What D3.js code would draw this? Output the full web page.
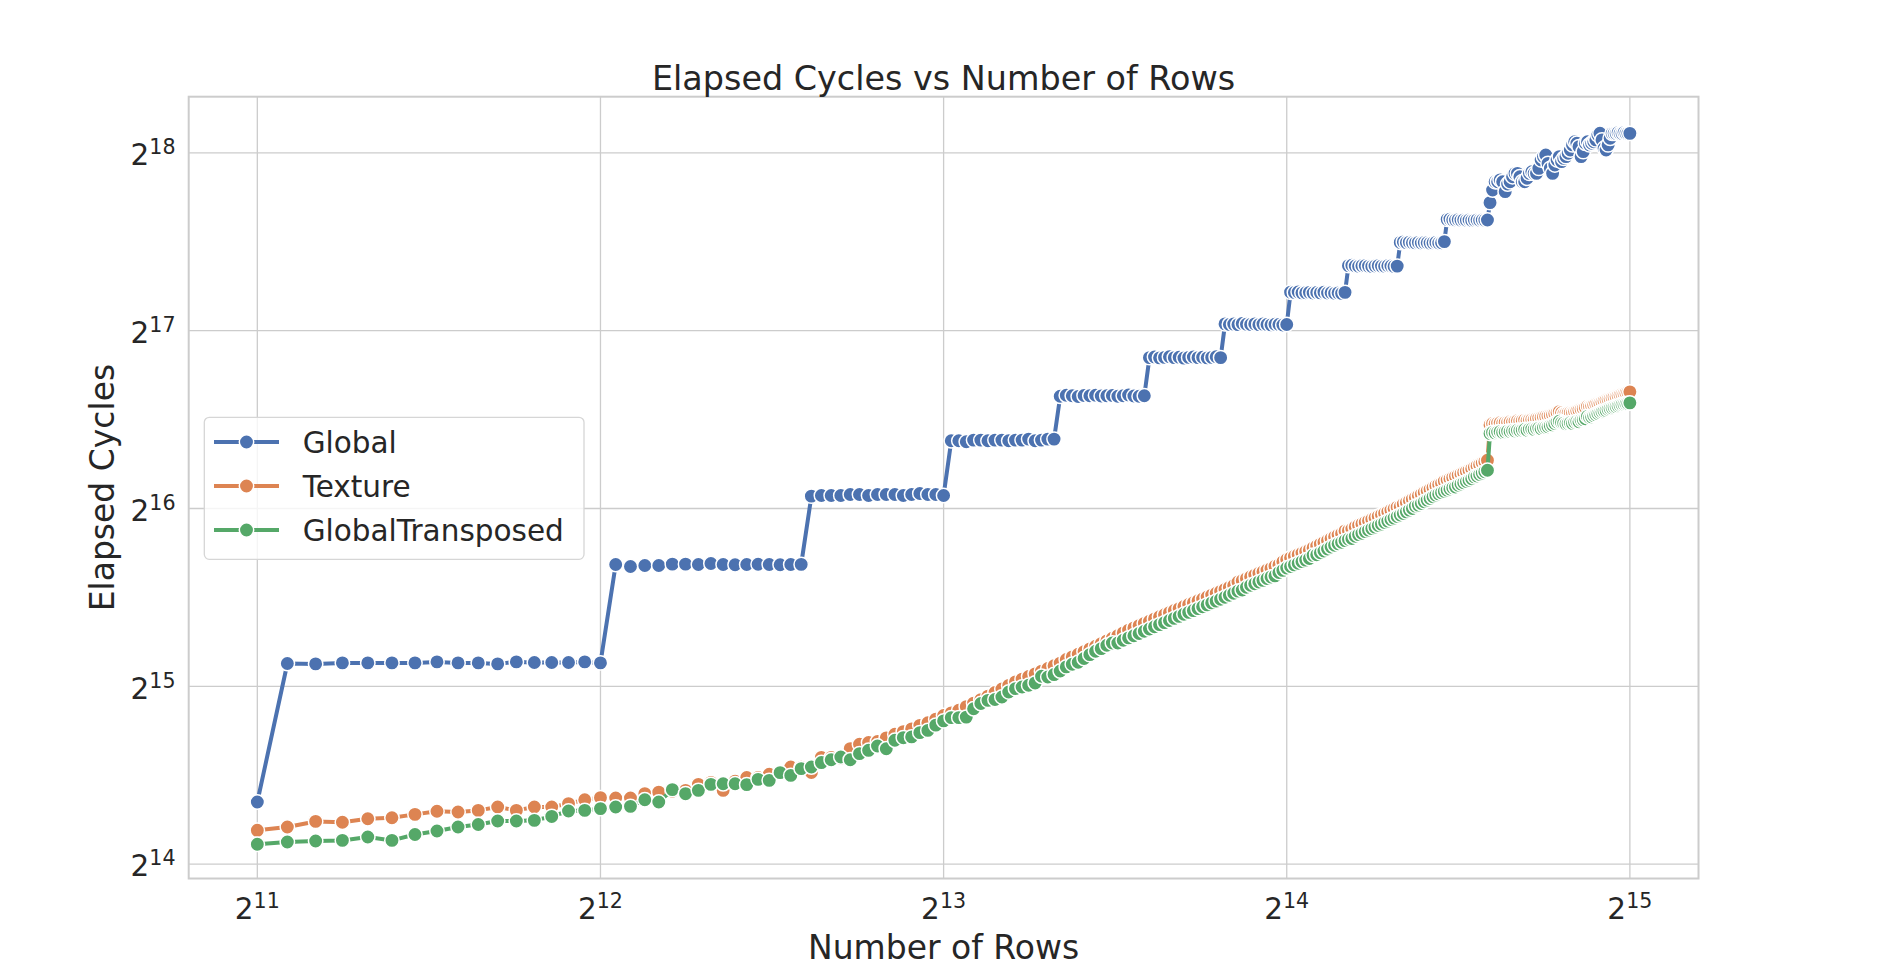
<!DOCTYPE html>
<html>
<head>
<meta charset="utf-8">
<script src="https://cdn.jsdelivr.net/npm/d3@7"></script>
<style>
body { margin: 0; background: #fff; }
.chart text { font-family: "DejaVu Sans", sans-serif; fill: #262626; }
</style>
</head>
<body>
<div class="chart"></div>
<script>
var rows = [
    2048, 2176, 2304, 2432, 2560, 2688, 2816, 2944, 3072, 3200, 3328, 3456, 3584, 3712, 3840, 3968,
    4096, 4224, 4352, 4480, 4608, 4736, 4864, 4992, 5120, 5248, 5376, 5504, 5632, 5760, 5888, 6016,
    6144, 6272, 6400, 6528, 6656, 6784, 6912, 7040, 7168, 7296, 7424, 7552, 7680, 7808, 7936, 8064,
    8192, 8320, 8448, 8576, 8704, 8832, 8960, 9088, 9216, 9344, 9472, 9600, 9728, 9856, 9984, 10112,
    10240, 10368, 10496, 10624, 10752, 10880, 11008, 11136, 11264, 11392, 11520, 11648, 11776, 11904, 12032, 12160,
    12288, 12416, 12544, 12672, 12800, 12928, 13056, 13184, 13312, 13440, 13568, 13696, 13824, 13952, 14080, 14208,
    14336, 14464, 14592, 14720, 14848, 14976, 15104, 15232, 15360, 15488, 15616, 15744, 15872, 16000, 16128, 16256,
    16384, 16512, 16640, 16768, 16896, 17024, 17152, 17280, 17408, 17536, 17664, 17792, 17920, 18048, 18176, 18304,
    18432, 18560, 18688, 18816, 18944, 19072, 19200, 19328, 19456, 19584, 19712, 19840, 19968, 20096, 20224, 20352,
    20480, 20608, 20736, 20864, 20992, 21120, 21248, 21376, 21504, 21632, 21760, 21888, 22016, 22144, 22272, 22400,
    22528, 22656, 22784, 22912, 23040, 23168, 23296, 23424, 23552, 23680, 23808, 23936, 24064, 24192, 24320, 24448,
    24576, 24704, 24832, 24960, 25088, 25216, 25344, 25472, 25600, 25728, 25856, 25984, 26112, 26240, 26368, 26496,
    26624, 26752, 26880, 27008, 27136, 27264, 27392, 27520, 27648, 27776, 27904, 28032, 28160, 28288, 28416, 28544,
    28672, 28800, 28928, 29056, 29184, 29312, 29440, 29568, 29696, 29824, 29952, 30080, 30208, 30336, 30464, 30592,
    30720, 30848, 30976, 31104, 31232, 31360, 31488, 31616, 31744, 31872, 32000, 32128, 32256, 32384, 32512, 32640,
    32768
];

var globalCycles = [
    20870,
    35810, 35760, 35900, 35900, 35900, 35900, 36040, 35900, 35900, 35760, 36040, 35950, 35950, 35950, 36040, 35900,
    52680, 52270, 52470, 52470, 52750, 52750, 52680, 52880, 52680, 52620, 52680, 52720, 52680, 52640, 52680, 52700,
    68760, 68940, 68940, 68940, 69210, 69210, 68940, 69210, 69210, 69210, 68940, 69210, 69480, 69210, 69210, 68940,
    85340, 85340, 85010, 85560, 85560, 85340, 85560, 85560, 85340, 85560, 85560, 85890, 85340, 85560, 85890, 85890,
    101500, 101900, 101700, 101400, 101800, 101700, 101900, 101600, 101700, 101800, 101500, 101700, 102000, 101600, 101500, 101700,
    118000, 118300, 117900, 118100, 118400, 118000, 118200, 117800, 118100, 118300, 118000, 118200, 117900, 118100, 118400, 118000,
    134600, 134300, 134500, 134200, 134800, 134400, 134300, 134600, 134200, 134500, 134300, 134100, 134400, 134300, 134000, 134300,
    152300, 152100, 152400, 151900, 152000, 152200, 151800, 152100, 151900, 152300, 151800, 152000, 151700, 151900, 151600, 152200,
    168900, 169200, 168700, 168500, 168800, 168900, 168600, 168400, 168700, 168900, 168600, 168500, 168800, 168700, 168400, 168600,
    184900, 185300, 184800, 185100, 184700, 184600, 184900, 184500, 184800, 184700, 184400, 184600, 184900, 184500, 184700, 185500,
    202300, 202500, 201900, 201800, 202100, 201700, 201900, 201600, 201800, 201500, 201700, 201900, 201600, 201800, 201700, 201800,
    215900, 226780, 234300, 234300, 235930, 234300, 225380, 232190, 234300, 238890,
    242060, 242060, 238890, 234300, 234300, 237410, 242060, 243590, 242060, 242060,
    246810, 254980, 258360, 259970, 251640, 246810, 242060, 250070, 254980, 258360,
    253390, 256570, 258360, 261780, 265070, 270450, 273840, 272140, 268580, 258360,
    263420, 272140, 273840, 270450, 272140, 273840, 275740, 281140, 283000, 275740,
    266910, 265070, 270450, 277470, 282900, 282900, 282900, 283690, 282900, 282900,
    283690, 282900, 282900, 282900
];

var textureCycles = [
    18690, 18930, 19350, 19290, 19550, 19630, 19890, 20130, 20070, 20200, 20470, 20200,
    20470, 20470, 20740, 21060, 21230, 21200, 21200, 21560, 21690, 21770, 21840, 22360,
    22530, 21840, 22640, 22960, 22960, 23260, 23440, 23920, 23900, 23410, 24840, 24840, 24760,
    25700, 26140, 26320, 26420, 26800, 27180, 27460, 27750, 28140, 28430, 28830, 29240, 29540,
    29850, 30270, 30690, 31110, 31540, 31980, 32420, 32880, 33340, 33690, 34040, 34400, 34760,
    35130, 35500, 35870, 36370, 36750, 37130, 37510, 37910, 38300, 38700, 39110, 39520, 39930, 40350,
    40790, 41140, 41510, 41880, 42230, 42610, 42970, 43300, 43660, 44030,
    44360, 44730, 45080, 45390, 45740, 46060, 46410, 46760, 47090, 47450,
    47810, 48180, 48550, 49200, 49470, 49850, 50230, 50550, 50900, 51220,
    51570, 51890, 52330, 52600, 53240, 53730, 54060, 54400, 54740, 55080,
    55430, 55770, 56200, 56590, 57030, 57420, 57860, 58300, 58710, 59080,
    59410, 60050, 60110, 60490, 61000, 61380, 61720, 62110, 62450, 62840,
    63190, 63590, 63940, 64340, 64700, 65110, 65470, 65880, 66000, 66660,
    67080, 67540, 67960, 68390, 68860, 69290, 69780, 70210, 70650, 71140,
    71590, 71940, 72290, 72900, 73200, 73560, 73920, 74280, 74640, 75000,
    75370, 75730, 76100, 76520, 76950, 77380, 77810, 78240, 78670, 79110,
    90780, 91280, 91160, 91410, 91530, 91340, 91660, 91730, 91920, 91790,
    92040, 92240, 92110, 92300, 92490, 92360, 92560, 92680, 92680, 93010,
    93200, 93460, 93650, 93840, 93980, 94240, 94500, 94900, 95290, 95620,
    95160, 94760, 94960, 95160, 95290, 95290, 95620, 95950, 96150, 96490,
    96750, 97160, 97630, 97560, 97830, 98170, 98450, 98720, 98990, 99330,
    99680, 100030, 100310, 100590, 100870, 101150, 101430, 101780, 102060, 102340,
    102560, 102840, 103060, 103270
];

var transposedCycles = [
    17700, 17860, 17930, 17970, 18210, 17970, 18390, 18640, 18930, 19120, 19380, 19380,
    19430, 19730, 20150, 20200, 20340, 20470, 20520, 21060, 20870, 21900, 21560, 21840,
    22360, 22410, 22410, 22330, 22800, 22710, 23400, 23150, 23770, 23920, 24340, 24610, 24870,
    24610, 25200, 25530, 25960, 25690, 26550, 26820, 26900, 27350, 27590, 28160, 28630, 29000,
    29000, 29060, 30020, 30640, 31020, 31130, 31430, 32050, 32470, 32680, 32900, 33200, 34070,
    33970, 34300, 34780, 35340, 35710, 35980, 36510, 37070, 37560, 37950, 38450, 38800, 38800, 39210,
    39570, 39900, 40260, 40620, 40960, 41330, 41680, 42000, 42350, 42700,
    43030, 43390, 43720, 44020, 44360, 44670, 45010, 45360, 45670, 46020,
    46370, 46730, 47090, 47480, 47700, 48210, 48580, 48880, 49220, 49530,
    49880, 50190, 50400, 51070, 51490, 51960, 52280, 52610, 52940, 53270,
    53600, 53940, 54600, 54730, 55150, 55530, 55960, 56390, 56780, 57130,
    57450, 57810, 58130, 58300, 58820, 59190, 59520, 59890, 60230, 60600,
    60940, 61320, 61660, 62050, 62390, 62780, 63130, 63530, 63880, 64280,
    64680, 65130, 65540, 66150, 66410, 66820, 67290, 67710, 68130, 68600,
    69030, 69370, 69710, 70050, 70390, 70730, 71070, 71250, 71770, 72120,
    72470, 72820, 73170, 73580, 74150, 74400, 74810, 75230, 75650, 76070,
    87810, 88170, 87990, 88290, 88420, 88170, 88350, 88600, 88480, 88720,
    88660, 88910, 88780, 88970, 89150, 88910, 89280, 89340, 89220, 89530,
    89650, 89460, 89840, 90020, 90150, 90520, 90800, 91300, 91800, 92100,
    91600, 91410, 91160, 91340, 91530, 91340, 91730, 92040, 91920, 92490,
    92680, 93010, 93840, 93460, 93650, 94110, 94500, 94900, 95290, 95560,
    95820, 96090, 96490, 96820, 97020, 97290, 97500, 97770, 98040, 98240,
    98380, 98580, 98720, 98930
];

var seriesNames = ["Global", "Texture", "GlobalTransposed"];
var seriesColors = ["#4c72b0", "#dd8452", "#55a868"];
var xTickExp = [11, 12, 13, 14, 15];
var yTickExp = [14, 15, 16, 17, 18];

var chartW = 1885, chartH = 977;
var plotLeft = 188.7, plotRight = 1698.5, plotTop = 96.7, plotBottom = 878.5;

var x = d3.scaleLog().base(2)
    .domain([Math.pow(2, 10.8), Math.pow(2, 15.2)])
    .range([plotLeft, plotRight]);

var y = d3.scaleLog().base(2)
    .domain([Math.pow(2, 13.919), Math.pow(2, 18.316)])
    .range([plotBottom, plotTop]);

function powLabel(sel, exp) {
    sel.append("tspan").text("2");
    sel.append("tspan")
        .attr("font-size", 20.6)
        .attr("dy", -11)
        .text(exp);
}

function drawSeries(g, values, color) {
    var pts = rows.map(function(r, i) { return [r, values[i]]; });
    var line = d3.line()
        .x(function(d) { return x(d[0]); })
        .y(function(d) { return y(d[1]); });
    g.append("path")
        .datum(pts)
        .attr("d", line)
        .attr("fill", "none")
        .attr("stroke", color)
        .attr("stroke-width", 4)
        .attr("stroke-linejoin", "round");
    g.append("g")
        .selectAll("circle")
        .data(pts)
        .enter()
        .append("circle")
        .attr("cx", function(d) { return x(d[0]); })
        .attr("cy", function(d) { return y(d[1]); })
        .attr("r", 7.2)
        .attr("fill", color)
        .attr("stroke", "#fff")
        .attr("stroke-width", 1.5);
}

function newChart() {
    var svg = d3.select(".chart").append("svg")
        .attr("width", chartW)
        .attr("height", chartH);

    // grid
    var grid = svg.append("g");
    grid.selectAll(".vx")
        .data(xTickExp)
        .enter()
        .append("line")
        .attr("x1", function(d) { return x(Math.pow(2, d)); })
        .attr("x2", function(d) { return x(Math.pow(2, d)); })
        .attr("y1", plotTop)
        .attr("y2", plotBottom)
        .attr("stroke", "#cccccc")
        .attr("stroke-width", 1.3);
    grid.selectAll(".hy")
        .data(yTickExp)
        .enter()
        .append("line")
        .attr("x1", plotLeft)
        .attr("x2", plotRight)
        .attr("y1", function(d) { return y(Math.pow(2, d)); })
        .attr("y2", function(d) { return y(Math.pow(2, d)); })
        .attr("stroke", "#cccccc")
        .attr("stroke-width", 1.3);

    svg.append("rect")
        .attr("x", plotLeft)
        .attr("y", plotTop)
        .attr("width", plotRight - plotLeft)
        .attr("height", plotBottom - plotTop)
        .attr("fill", "none")
        .attr("stroke", "#cccccc")
        .attr("stroke-width", 2);

    // tick labels
    svg.append("g")
        .selectAll("text")
        .data(xTickExp)
        .enter()
        .append("text")
        .attr("x", function(d) { return x(Math.pow(2, d)); })
        .attr("y", 919)
        .attr("text-anchor", "middle")
        .attr("font-size", 29.5)
        .each(function(d) { powLabel(d3.select(this), d); });

    svg.append("g")
        .selectAll("text")
        .data(yTickExp)
        .enter()
        .append("text")
        .attr("x", 175.5)
        .attr("y", function(d) { return y(Math.pow(2, d)) + 12.3; })
        .attr("text-anchor", "end")
        .attr("font-size", 29.5)
        .each(function(d) { powLabel(d3.select(this), d); });

    var plot = svg.append("g");
    drawSeries(plot, globalCycles, seriesColors[0]);
    drawSeries(plot, textureCycles, seriesColors[1]);
    drawSeries(plot, transposedCycles, seriesColors[2]);

    // titles
    svg.append("text")
        .attr("x", (plotLeft + plotRight) / 2)
        .attr("y", 89.5)
        .attr("text-anchor", "middle")
        .attr("font-size", 33.4)
        .text("Elapsed Cycles vs Number of Rows");
    svg.append("text")
        .attr("x", (plotLeft + plotRight) / 2)
        .attr("y", 959)
        .attr("text-anchor", "middle")
        .attr("font-size", 33)
        .text("Number of Rows");
    svg.append("text")
        .attr("transform", "translate(113.5," + ((plotTop + plotBottom) / 2) + ") rotate(-90)")
        .attr("text-anchor", "middle")
        .attr("font-size", 33)
        .text("Elapsed Cycles");

    // legend
    var legend = svg.append("g");
    legend.append("rect")
        .attr("x", 204.3)
        .attr("y", 417.3)
        .attr("width", 379.7)
        .attr("height", 142)
        .attr("rx", 5)
        .attr("fill", "#fff")
        .attr("fill-opacity", 0.8)
        .attr("stroke", "#d6d6d6")
        .attr("stroke-width", 1.3);
    var item = legend.selectAll(".item")
        .data(seriesNames)
        .enter()
        .append("g")
        .attr("transform", function(d, i) { return "translate(0," + (442 + i * 44) + ")"; });
    item.append("line")
        .attr("x1", 214)
        .attr("x2", 279)
        .attr("stroke", function(d, i) { return seriesColors[i]; })
        .attr("stroke-width", 4);
    item.append("circle")
        .attr("cx", 246.5)
        .attr("r", 7.2)
        .attr("fill", function(d, i) { return seriesColors[i]; })
        .attr("stroke", "#fff")
        .attr("stroke-width", 1.5);
    item.append("text")
        .attr("x", 302.7)
        .attr("y", 11.3)
        .attr("font-size", 29.5)
        .text(function(d) { return d; });
}

window.onload = function() {
    newChart();
};
</script>
</body>
</html>
